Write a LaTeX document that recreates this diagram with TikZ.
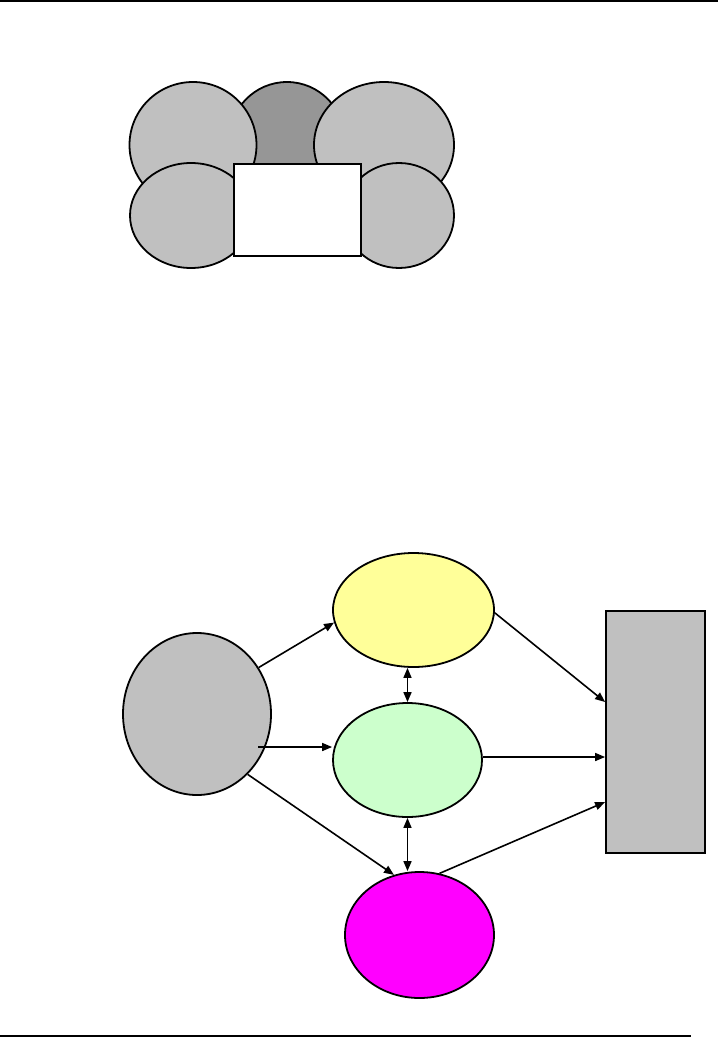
\documentclass[tikz,border=0pt]{standalone}
\usetikzlibrary{shapes.geometric,arrows.meta}
\definecolor{lgrey}{HTML}{C0C0C0}
\definecolor{dgrey}{HTML}{969696}
\definecolor{lyellow}{HTML}{FFFF99}
\definecolor{lgreen}{HTML}{CCFFCC}
\definecolor{mag}{HTML}{FF00FF}
\tikzset{
  ell/.style={ellipse,draw=black,line width=1.8pt,inner sep=0pt},
  boxnode/.style={rectangle,draw=black,line width=1.8pt,inner sep=0pt},
  arr/.style={line width=1.6pt,-{Triangle[length=10pt,width=8pt]}},
  darr/.style={line width=1.6pt,{Triangle[length=10pt,width=8pt]}-{Triangle[length=10pt,width=8pt]}},
  rule/.style={line width=1.8pt}
}
\begin{document}
\begin{tikzpicture}[x=1pt,y=-1pt]
\useasboundingbox (0,0) rectangle (718,1039);
% page rules
\coordinate (tl) at (0,1);
\coordinate (tr) at (718,1);
\coordinate (bl) at (0,1036);
\coordinate (br) at (691,1036);
\draw[rule] (tl) -- (tr);
\draw[rule] (bl) -- (br);
% top cluster
\node[ell,fill=dgrey,minimum width=116pt,minimum height=118pt] (c0) at (287,141) {};
\node[ell,fill=lgrey,minimum width=127pt,minimum height=126pt] (c1) at (193,145) {};
\node[ell,fill=lgrey,minimum width=140pt,minimum height=126pt] (c2) at (384,145) {};
\node[ell,fill=lgrey,minimum width=122pt,minimum height=105pt] (c3) at (191,215.5) {};
\node[ell,fill=lgrey,minimum width=110pt,minimum height=105pt] (c4) at (399,215.5) {};
\node[boxnode,fill=white,minimum width=127pt,minimum height=92pt] (c5) at (297.5,210) {};
% bottom diagram
\node[ell,fill=lgrey,minimum width=148pt,minimum height=162pt] (g) at (197,714) {};
\node[ell,fill=lyellow,minimum width=161pt,minimum height=114pt] (y) at (413.5,610) {};
\node[ell,fill=lgreen,minimum width=149pt,minimum height=114pt] (gr) at (407.5,760) {};
\node[ell,fill=mag,minimum width=149pt,minimum height=126pt] (m) at (419.5,935) {};
\node[boxnode,fill=lgrey,minimum width=99pt,minimum height=242pt] (r) at (655.5,732) {};
% connectors
\coordinate (gmid) at ([xshift=61pt,yshift=-33pt]g.center);
\draw[arr] (g.37) -- (y.189);
\draw[arr] (gmid) -- (gmid -| gr.west);
\draw[arr] (g.-50) -- (m.113);
\draw[darr] (gr.north |- y.south) -- (gr.north);
\draw[darr] (gr.south) -- (gr.south |- m.north);
\draw[arr] (y.-2) -- ([yshift=30pt]r.west);
\draw[arr] ([yshift=3pt]gr.east) -- ([yshift=-25pt]r.west);
\draw[arr] (m.72) -- ([yshift=-70pt]r.west);
\end{tikzpicture}
\end{document}
